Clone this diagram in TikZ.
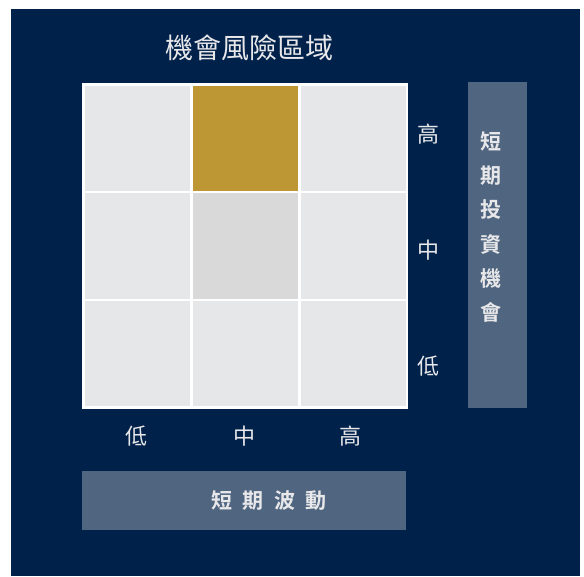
\documentclass[tikz,border=0pt]{standalone}
\usepackage{fontspec}
\setmainfont{Noto Sans CJK TC}
\newfontfamily\cjkb{Noto Sans CJK TC Bold}
\definecolor{navy}{HTML}{00214A}
\definecolor{gold}{HTML}{BD9734}
\definecolor{lightcell}{HTML}{E6E7E9}
\definecolor{midcell}{HTML}{D9D9D9}
\definecolor{barcol}{HTML}{506680}
\definecolor{txt}{HTML}{E8E8EA}
\tikzset{
  cell/.style={draw=white, line width=2.6pt, minimum width=107.8pt, minimum height=107.8pt, inner sep=0pt, anchor=north west},
  axislabel/.style={text=txt, font=\fontsize{22}{22}\selectfont, inner sep=0pt},
  bar/.style={fill=barcol, draw=none, inner sep=0pt, anchor=north west}
}
\begin{document}
\begin{tikzpicture}[x=1pt,y=-1pt]
\useasboundingbox (0,0) rectangle (584,576);
\fill[white] (0,0) rectangle (584,576);
\fill[navy] (11,9) rectangle (580,576);
% title
\node[text=txt, font=\fontsize{28}{28}\selectfont, inner sep=0pt] (title) at (249,48) {機會風險區域};
% grid
\foreach \r/\yy in {0/83,1/190.8,2/298.6}{
  \foreach \c/\xx in {0/82.3,1/190.1,2/297.9}{
    \node[cell, fill=lightcell] (c\r\c) at (\xx,\yy) {};
  }
}
\node[cell, fill=gold] (c01) at (190.1,83) {};
\node[cell, fill=midcell] (c11) at (190.1,190.8) {};
% row labels
\node[axislabel] (rh) at (428,134) {高};
\node[axislabel] (rm) at (428,250) {中};
\node[axislabel] (rl) at (428,366) {低};
% column labels
\node[axislabel] (cl) at (136,436) {低};
\node[axislabel] (cm) at (244,436) {中};
\node[axislabel] (ch) at (350,436) {高};
% right bar
\node[bar, minimum width=59pt, minimum height=326pt] (rbar) at (468,82) {};
\node[text=txt, font=\cjkb\fontsize{21}{34.2}\selectfont, align=center, inner sep=0pt] (rtext) at (491,227) {短\\期\\投\\資\\機\\會};
% bottom bar
\node[bar, minimum width=324pt, minimum height=59pt] (bbar) at (82,471) {};
\node[text=txt, font=\cjkb\fontsize{21}{21}\selectfont, inner sep=0pt] (btext) at (269,501) {短\hspace{10.5pt}期\hspace{10.5pt}波\hspace{10.5pt}動};
\end{tikzpicture}
\end{document}
